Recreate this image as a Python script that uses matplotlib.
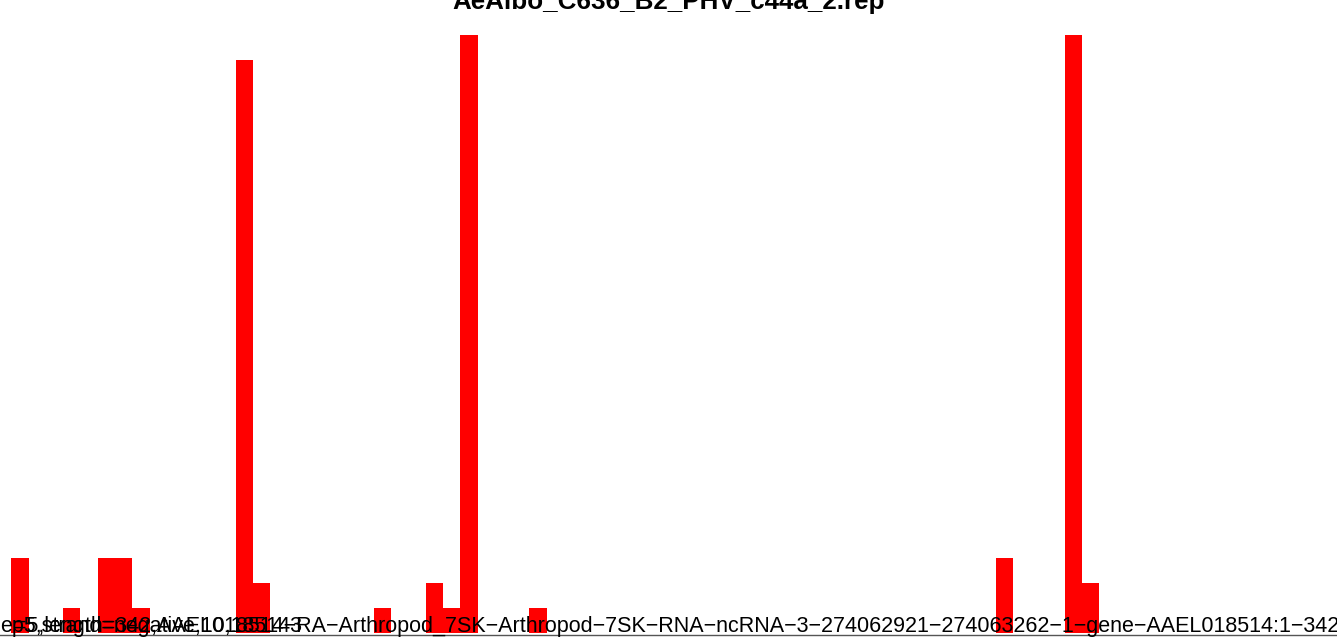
import numpy as np
import matplotlib
matplotlib.use("Agg")
import matplotlib.pyplot as plt

plt.rcParams['font.family'] = ['Liberation Sans', 'DejaVu Sans']

title = "AeAlbo_C636_B2_PHV_c44a_2.rep"
# bin index -> read count (empty bins are zero)
bins = [0, 3, 5, 6, 7, 13, 14, 21, 24, 25, 26, 30, 57, 61, 62]
counts = [3, 1, 3, 3, 1, 23, 2, 1, 2, 1, 24, 1, 3, 24, 2]
n_bins = 77
label_a = "=5,length=342,AAEL018514\u2212RA\u2212Arthropod_7SK\u2212Arthropod\u22127SK\u2212RNA\u2212ncRNA\u22123\u2212274062921\u2212274063262\u22121\u2212gene\u2212AAEL018514:1\u2212342"
label_b = "ep5,strand=negative,10,185143"

fig = plt.figure(figsize=(13.37, 6.44), dpi=100)
ax = fig.add_axes([0, 0, 1, 1])

ax.bar(bins, counts, width=1.0, align='edge', color='#ff0000', linewidth=0)
ax.axhline(-0.1, color='#555555', lw=1)

ax.set_xlim(-0.66, 76.76)
ax.set_ylim(-0.442, 25.42)
ax.axis('off')

fig.text(0.5, 1 - 9 / 644, title, ha='center', va='baseline',
         fontsize=18.7, fontweight='bold')
ax.text(1339 / 1337, 12 / 644, label_a, transform=fig.transFigure,
        ha='right', va='baseline', fontsize=15.5, color='black')
ax.text(0, 12 / 644, label_b, transform=fig.transFigure,
        ha='left', va='baseline', fontsize=15.5, color='black')

fig.savefig("out.png", dpi=100)
